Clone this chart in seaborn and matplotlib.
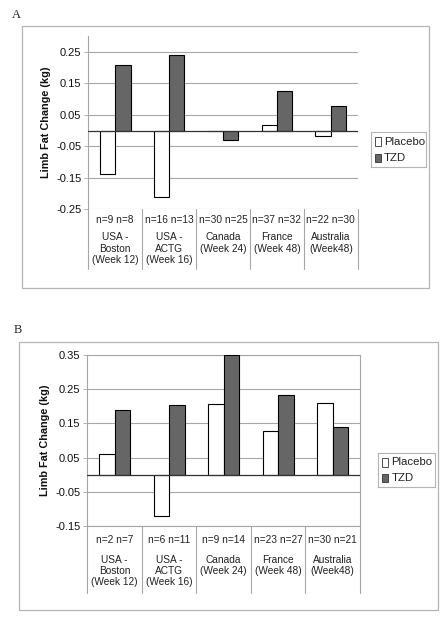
import matplotlib
matplotlib.use("Agg")
import matplotlib.pyplot as plt
import matplotlib.transforms as mtransforms
from matplotlib.patches import Rectangle
import seaborn as sns
import pandas as pd

sites = ["USA -\nBoston\n(Week 12)", "USA -\nACTG\n(Week 16)", "Canada\n(Week 24)",
         "France\n(Week 48)", "Australia\n(Week48)"]
groups = ["Placebo", "TZD"]

a_placebo = [-0.139, -0.210, -0.003, 0.019, -0.018]
a_tzd = [0.207, 0.240, -0.030, 0.127, 0.078]
a_n = ["n=9 n=8", "n=16 n=13", "n=30 n=25", "n=37 n=32", "n=22 n=30"]
a_ticks = [-0.25, -0.15, -0.05, 0.05, 0.15, 0.25]

b_placebo = [0.059, -0.123, 0.208, 0.129, 0.211]
b_tzd = [0.189, 0.204, 0.350, 0.233, 0.139]
b_n = ["n=2 n=7", "n=6 n=11", "n=9 n=14", "n=23 n=27", "n=30 n=21"]
b_ticks = [-0.15, -0.05, 0.05, 0.15, 0.25, 0.35]

sns.set_theme(style="white")
plt.rcParams["font.family"] = ["Liberation Sans", "DejaVu Sans"]

fig = plt.figure(figsize=(4.48, 6.25), dpi=100)
GRID = "#a6a6a6"
FRAME = "#b4b4b4"


def panel(rect_px, placebo, tzd, nlabels, ticks, ylim, table_px, n_px, name_px, boxed,
          frame_px, legend_px, letter_px, letter):
    x0, y0, x1, y1 = rect_px
    h = y1 - y0
    ax = fig.add_axes([x0 / 448, 1 - y1 / 625, (x1 - x0) / 448, h / 625])
    df = pd.DataFrame({
        "site": sites * 2,
        "group": [groups[0]] * len(sites) + [groups[1]] * len(sites),
        "value": placebo + tzd,
    })
    sns.barplot(data=df, x="site", y="value", hue="group", order=sites, hue_order=groups,
                palette={"Placebo": "white", "TZD": "#666666"}, width=0.57,
                edgecolor="black", linewidth=0.8, ax=ax, legend=False, zorder=3)
    ax.set_ylim(*ylim)
    ax.set_xlim(-0.5, len(sites) - 0.5)
    ax.set_yticks(ticks)
    ax.set_yticklabels([f"{t:.2f}" for t in ticks], fontsize=8, color="#111111")
    ax.tick_params(axis="y", length=3, width=0.6, color=GRID, pad=2, left=True)
    ax.set_xticks([])
    ax.set_xlabel("")
    ax.set_ylabel("Limb Fat Change (kg)", fontsize=7.8, fontweight="bold", labelpad=4,
                  color="#111111")
    for t in ticks:
        ax.axhline(t, color=GRID, lw=0.8, zorder=1)
    ax.axhline(0, color="#333333", lw=0.9, zorder=4)
    for s in ["top", "right", "bottom"]:
        ax.spines[s].set_visible(boxed)
        ax.spines[s].set_color(GRID)
        ax.spines[s].set_linewidth(0.8)
    ax.spines["left"].set_color(GRID)
    ax.spines["left"].set_linewidth(0.8)
    # category table below the axis
    tr = mtransforms.blended_transform_factory(ax.transData, ax.transAxes)
    for i in range(len(sites) + 1):
        ax.plot([i - 0.5, i - 0.5], [0, -table_px / h], transform=tr, color=GRID, lw=0.8,
                clip_on=False)
    for i, (name, n) in enumerate(zip(sites, nlabels)):
        ax.text(i, -n_px / h, n, transform=tr, ha="center", va="center", fontsize=7.3,
                color="#222222")
        ax.text(i, -name_px / h, name, transform=tr, ha="center", va="top",
                fontsize=7.3, color="#222222", linespacing=1.15)
    # legend box
    lx0, ly0, lx1, ly1 = legend_px
    lax = fig.add_axes([lx0 / 448, 1 - ly1 / 625, (lx1 - lx0) / 448, (ly1 - ly0) / 625])
    lax.set_xlim(0, 1)
    lax.set_ylim(0, 1)
    lax.set_xticks([])
    lax.set_yticks([])
    for s in lax.spines.values():
        s.set_color(FRAME)
        s.set_linewidth(0.8)
    cols = ["white", "#666666"]
    for j, (g, c) in enumerate(zip(groups, cols)):
        yc = 0.72 - j * 0.46
        lax.add_patch(Rectangle((0.07, yc - 0.12), 0.11, 0.24, facecolor=c, edgecolor="#333333",
                                lw=0.6))
        lax.text(0.24, yc, g, va="center", ha="left", fontsize=8.2, color="#222222")
    # outer frame
    fx0, fy0, fx1, fy1 = frame_px
    fig.add_artist(Rectangle((fx0 / 448, 1 - fy1 / 625), (fx1 - fx0) / 448, (fy1 - fy0) / 625,
                             transform=fig.transFigure, fill=False, edgecolor=FRAME, lw=0.9))
    fig.text(letter_px[0] / 448, 1 - letter_px[1] / 625, letter, fontsize=9,
             family=["Liberation Serif", "DejaVu Serif"], ha="left", va="center")
    return ax


panel((88.3, 36, 357.7, 209.3), a_placebo, a_tzd, a_n, a_ticks, (-0.25, 0.30),
      60, 10.4, 23, False,
      (22.3, 26, 429, 288.3), (370.7, 131.7, 425.7, 167.3), (12, 15), "A")
panel((87.3, 355.3, 360, 525.7), b_placebo, b_tzd, b_n, b_ticks, (-0.15, 0.35),
      67.6, 14, 29, True,
      (19.3, 342.3, 438.3, 610), (377.7, 452.7, 435.3, 487.3), (14, 330), "B")

fig.savefig("out.png", dpi=100)
